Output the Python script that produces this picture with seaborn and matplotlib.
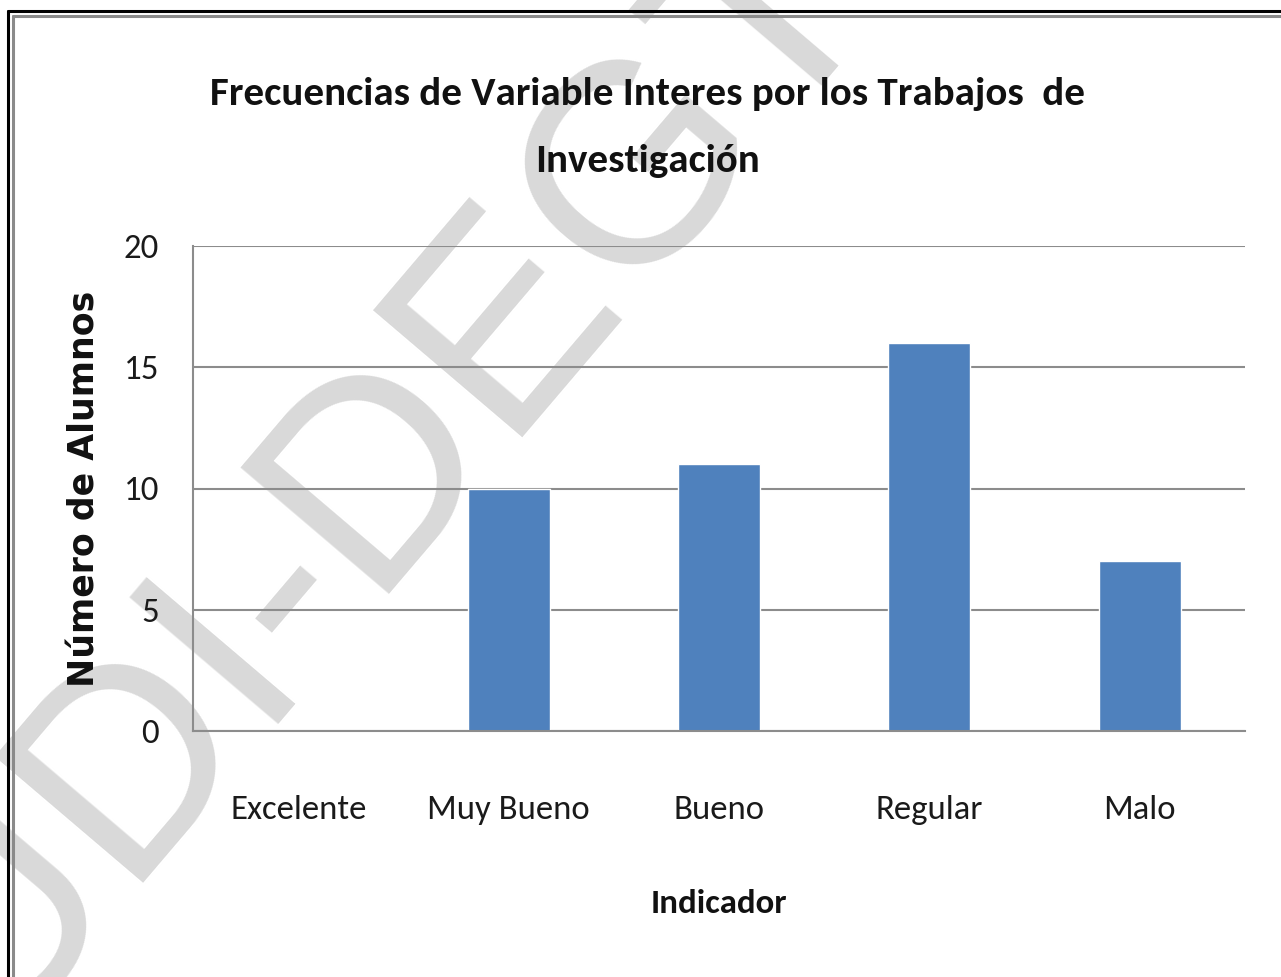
import matplotlib
matplotlib.use("Agg")
import matplotlib.pyplot as plt
import seaborn as sns
import pandas as pd
from matplotlib import font_manager
from matplotlib.lines import Line2D

categories = ["Excelente", "Muy Bueno", "Bueno", "Regular", "Malo"]
values = [0, 10, 11, 16, 7]
yticks = [0, 5, 10, 15, 20]
title_lines = ["Frecuencias de Variable Interes por los Trabajos  de", "Investigación"]
xlabel_text = "Indicador"
ylabel_text = "Número de Alumnos"
watermark_text = "UDI-DEGT"

df = pd.DataFrame({"cat": categories, "val": values})

sns.set_theme(style="white")
avail = {f.name for f in font_manager.fontManager.ttflist}
narrow = None
for cand in ["Carlito", "Liberation Sans Narrow", "Open Sans", "Liberation Sans"]:
    if cand in avail:
        narrow = cand
        break
plt.rcParams["font.family"] = [narrow, "DejaVu Sans"]

W, H = 1281, 977
fig = plt.figure(figsize=(W / 100, H / 100), dpi=100)
fig.patch.set_facecolor("white")

# background axes for watermark
bg = fig.add_axes([0, 0, 1, 1], zorder=-5)
bg.set_axis_off()
bg.set_xlim(0, W)
bg.set_ylim(H, 0)
bg.text(-12, 1040, watermark_text, fontsize=205, color="#d9d9d9",
        rotation=49.6, rotation_mode="anchor", ha="left", va="baseline",
        family=["Liberation Sans", "DejaVu Sans"], fontweight="normal", clip_on=True)

ax = fig.add_axes([193 / W, 1 - 731 / H, (1245 - 193) / W, (731 - 246) / H], zorder=1)
ax.set_facecolor("none")

sns.barplot(data=df, x="cat", y="val", color="#4F81BD", width=0.39,
            saturation=1, ax=ax, zorder=3)

ax.set_xlim(-0.5, len(categories) - 0.5)
ax.set_ylim(0, 20)
ax.set_yticks(yticks)
ax.set_yticklabels([str(t) for t in yticks])
ax.yaxis.grid(True, color="#8c8c8c", linewidth=1.5, zorder=1)
ax.set_axisbelow(True)

for s in ["top", "right"]:
    ax.spines[s].set_visible(False)
for s in ["left", "bottom"]:
    ax.spines[s].set_color("#8c8c8c")
    ax.spines[s].set_linewidth(1.5)
    ax.spines[s].set_zorder(4)

ax.set_xticks(range(len(categories)))
ax.set_xticklabels(categories)
ax.set_xticks([i - 0.5 for i in range(len(categories) + 1)], minor=True)
ax.tick_params(axis="x", which="major", length=0, pad=46, labelsize=25, labelcolor="#1a1a1a")
ax.tick_params(axis="x", which="minor", length=15, width=1.5, color="#8c8c8c", direction="out")
ax.tick_params(axis="y", which="major", length=10, width=1.5, color="#8c8c8c", direction="out",
               pad=14.5, labelsize=25, labelcolor="#1a1a1a")

ax.set_xlabel(xlabel_text, fontsize=25, fontweight="bold", color="#111111")
ax.xaxis.set_label_coords(0.5, (731 - 913) / 485)
ax.xaxis.label.set_verticalalignment("baseline")

ax.set_ylabel(ylabel_text, fontsize=25, fontweight="bold", family=["DejaVu Sans"],
              color="#111111")
ax.yaxis.set_label_coords((102 - 193) / 1052, 0.5)

fig.text(648 / W, 1 - 105 / H, title_lines[0], ha="center", va="baseline", fontsize=29.5,
         fontweight="bold", color="#111111")
fig.text(648 / W, 1 - 172 / H, title_lines[1], ha="center", va="baseline", fontsize=29.5,
         fontweight="bold", color="#111111")

# border lines (left and top)
fig.add_artist(Line2D([8 / W, 8 / W], [0, 1 - 11 / H], color="black", linewidth=2.2, transform=fig.transFigure))
fig.add_artist(Line2D([8 / W, 1], [1 - 11 / H, 1 - 11 / H], color="black", linewidth=2.2, transform=fig.transFigure))
fig.add_artist(Line2D([12.5 / W, 12.5 / W], [0, 1 - 15.5 / H], color="#8a8a8a", linewidth=2.2, transform=fig.transFigure))
fig.add_artist(Line2D([12.5 / W, 1], [1 - 15.5 / H, 1 - 15.5 / H], color="#8a8a8a", linewidth=2.2, transform=fig.transFigure))

fig.savefig("out.png", dpi=100, facecolor="white")
